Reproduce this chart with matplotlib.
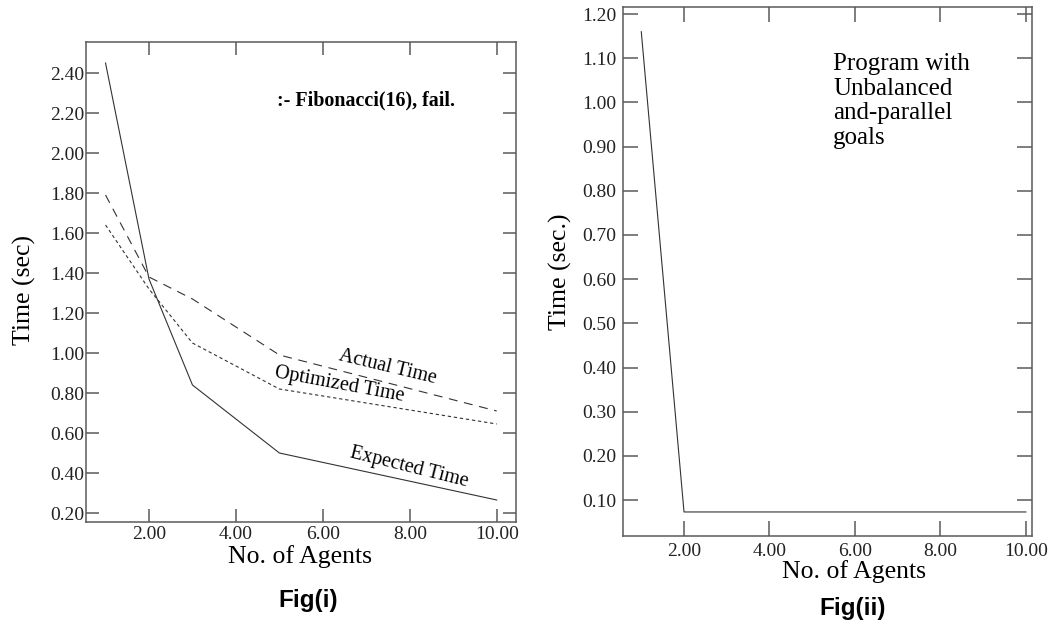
import matplotlib
matplotlib.use("Agg")
import matplotlib.pyplot as plt

# data
agents = [1, 2, 3, 5, 10]
actual_time = [1.79, 1.38, 1.27, 0.99, 0.71]
optimized_time = [1.64, 1.32, 1.05, 0.82, 0.645]
expected_time = [2.45, 1.37, 0.84, 0.50, 0.265]
unbalanced_time = [1.16, 0.073, 0.073, 0.073, 0.073]

x_ticks = [2, 4, 6, 8, 10]
y_ticks_i = [0.2, 0.4, 0.6, 0.8, 1.0, 1.2, 1.4, 1.6, 1.8, 2.0, 2.2, 2.4]
y_ticks_ii = [0.1, 0.2, 0.3, 0.4, 0.5, 0.6, 0.7, 0.8, 0.9, 1.0, 1.1, 1.2]

serif = "Liberation Serif"
line_col = "#333333"
spine_col = "#5a5a5a"

fig = plt.figure(figsize=(10.51, 6.25), dpi=100)
ax1 = fig.add_axes([0.0818, 0.1648, 0.409, 0.768])
ax2 = fig.add_axes([0.5928, 0.1424, 0.389, 0.8464])


def style(ax, yticks, length, xpad, ypad):
    ax.set_xticks(x_ticks)
    ax.set_xticklabels([f"{v:.2f}" for v in x_ticks])
    ax.set_yticks(yticks)
    ax.set_yticklabels([f"{v:.2f}" for v in yticks])
    ax.tick_params(direction="in", length=length, width=1.1, color=spine_col,
                   top=True, right=True, labelsize=14)
    ax.tick_params(axis="x", pad=xpad)
    ax.tick_params(axis="y", pad=ypad)
    for lab in ax.get_xticklabels() + ax.get_yticklabels():
        lab.set_fontfamily(serif)
        lab.set_color("#222222")
    for sp in ax.spines.values():
        sp.set_color(spine_col)
        sp.set_linewidth(1.1)


# Fig(i)
ax1.plot(agents, actual_time, color=line_col, lw=0.8, dashes=(8, 6))
ax1.plot(agents, optimized_time, color=line_col, lw=0.8, dashes=(3, 2.5))
ax1.plot(agents, expected_time, color=line_col, lw=0.8)
ax1.set_xlim(0.55, 10.44)
ax1.set_ylim(0.155, 2.555)
style(ax1, y_ticks_i, 9.4, 3, 1)

ax1.text(7.49, 0.93, "Actual Time", family=serif, fontsize=14.5, rotation=-13.5,
         ha="center", va="center", rotation_mode="anchor")
ax1.text(6.39, 0.84, "Optimized Time", family=serif, fontsize=14.5, rotation=-10.5,
         ha="center", va="center", rotation_mode="anchor")
ax1.text(7.98, 0.43, "Expected Time", family=serif, fontsize=14.5, rotation=-14,
         ha="center", va="center", rotation_mode="anchor")
ax1.text(4.94, 2.265, ":- Fibonacci(16), fail.", family=serif, fontsize=14.4,
         fontweight="bold", ha="left", va="center")

ax1.set_xlabel("No. of Agents", family=serif, fontsize=18.5, va="center")
ax1.xaxis.set_label_coords(0.498, -0.071)
ax1.set_ylabel("Time (sec)", family=serif, fontsize=18.5, va="center")
ax1.yaxis.set_label_coords(-0.142, 0.483)

# Fig(ii)
ax2.plot(agents, unbalanced_time, color=line_col, lw=0.8)
ax2.set_xlim(0.573, 10.14)
ax2.set_ylim(0.0186, 1.216)
style(ax2, y_ticks_ii, 10.5, 5, 5)

ax2.text(5.49, 1.112, "Program with\nUnbalanced\nand-parallel\ngoals",
         family=serif, fontsize=18, linespacing=1.16, ha="left", va="top")

ax2.set_xlabel("No. of Agents", family=serif, fontsize=18.5, va="center")
ax2.xaxis.set_label_coords(0.565, -0.067)
ax2.set_ylabel("Time (sec.)", family=serif, fontsize=18.5, va="center")
ax2.yaxis.set_label_coords(-0.154, 0.499)

fig.text(308 / 1051, 1 - 600 / 625, "Fig(i)", family="Liberation Sans",
         fontweight="bold", fontsize=17.5, ha="center", va="center")
fig.text(853 / 1051, 1 - 608 / 625, "Fig(ii)", family="Liberation Sans",
         fontweight="bold", fontsize=17.5, ha="center", va="center")

fig.savefig("out.png", dpi=100)
